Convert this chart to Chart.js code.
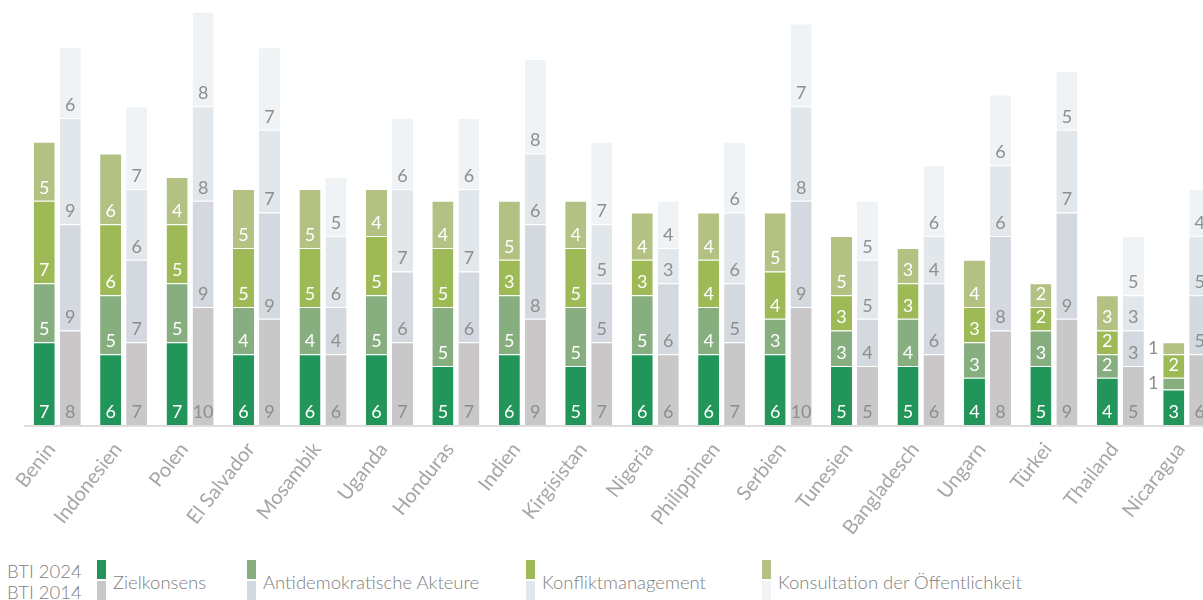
<!DOCTYPE html>
<html>
<head>
<meta charset="utf-8">
<script src="https://cdn.jsdelivr.net/npm/chart.js@4"></script>
<style>
  html, body { margin: 0; padding: 0; background: #fff; overflow: hidden; width: 1203px; height: 600px; }
  #wrap { position: absolute; left: 0; top: 0; width: 1220px; height: 540px; }
  .legend { position: absolute; font-family: Lato, "Open Sans", sans-serif; font-weight: 300; color: #808080; font-size: 18.5px; white-space: nowrap; }
  .sw { position: absolute; width: 9px; height: 19px; }
</style>
</head>
<body>
<div id="wrap"><canvas id="chart"></canvas></div>
<div class="legend" style="left:7px; top:561px; line-height:21px;">BTI 2024<br>BTI 2014</div>
<div id="legendItems"></div>
<script>
const countries = [
  "Benin", "Indonesien", "Polen", "El Salvador", "Mosambik", "Uganda",
  "Honduras", "Indien", "Kirgisistan", "Nigeria", "Philippinen", "Serbien",
  "Tunesien", "Bangladesch", "Ungarn", "Türkei", "Thailand", "Nicaragua",
];

const seriesNames = [
  "Zielkonsens",
  "Antidemokratische Akteure",
  "Konfliktmanagement",
  "Konsultation der Öffentlichkeit",
];

// BTI 2024
const ziel2024 =     [7, 6, 7, 6, 6, 6, 5, 6, 5, 6, 6, 6, 5, 5, 4, 5, 4, 3];
const antidemo2024 = [5, 5, 5, 4, 4, 5, 5, 5, 5, 5, 4, 3, 3, 4, 3, 3, 2, 1];
const konflikt2024 = [7, 6, 5, 5, 5, 5, 5, 3, 5, 3, 4, 4, 3, 3, 3, 2, 2, 2];
const konsult2024 =  [5, 6, 4, 5, 5, 4, 4, 5, 4, 4, 4, 5, 5, 3, 4, 2, 3, 1];

// BTI 2014
const ziel2014 =     [8, 7, 10, 9, 6, 7, 7, 9, 7, 6, 7, 10, 5, 6, 8, 9, 5, 6];
const antidemo2014 = [9, 7, 9, 9, 4, 6, 6, 8, 5, 6, 5, 9, 4, 6, 8, 9, 3, 5];
const konflikt2014 = [9, 6, 8, 7, 6, 7, 7, 6, 5, 3, 6, 8, 5, 4, 6, 7, 3, 5];
const konsult2014 =  [6, 7, 8, 7, 5, 6, 6, 8, 7, 4, 6, 7, 5, 6, 6, 5, 5, 4];

const greens = ["#22965A", "#86AE7E", "#9EBA56", "#B3C183"];
const greys = ["#C9C7C8", "#D3D9DE", "#E1E7EB", "#EFF3F5"];

const data2024 = [ziel2024, antidemo2024, konflikt2024, konsult2024];
const data2014 = [ziel2014, antidemo2014, konflikt2014, konsult2014];

const datasets = [];
data2024.forEach((values, i) => {
  datasets.push({
    label: seriesNames[i] + " 2024",
    data: values,
    stack: "bti2024",
    backgroundColor: greens[i],
    borderColor: "#ffffff",
    borderWidth: { top: 1, bottom: 0, left: 0, right: 0 },
    borderSkipped: false,
    labelColor: "#ffffff",
  });
});
data2014.forEach((values, i) => {
  datasets.push({
    label: seriesNames[i] + " 2014",
    data: values,
    stack: "bti2014",
    backgroundColor: greys[i],
    borderColor: "#ffffff",
    borderWidth: { top: 1, bottom: 0, left: 0, right: 0 },
    borderSkipped: false,
    labelColor: "#8e8e8e",
  });
});

// Grundlinie unter den Balken
const baseLine = {
  id: "baseLine",
  beforeDatasetsDraw(chart) {
    const ctx = chart.ctx;
    const area = chart.chartArea;
    ctx.save();
    ctx.strokeStyle = "#dddddd";
    ctx.lineWidth = 2;
    ctx.beginPath();
    ctx.moveTo(area.left, area.bottom + 1);
    ctx.lineTo(area.right, area.bottom + 1);
    ctx.stroke();
    ctx.restore();
  },
};

// Zahlen in die Segmente schreiben
const segmentLabels = {
  id: "segmentLabels",
  afterDatasetsDraw(chart) {
    const ctx = chart.ctx;
    ctx.save();
    ctx.font = "18px Lato";
    ctx.textAlign = "center";
    ctx.textBaseline = "middle";
    chart.data.datasets.forEach((ds, di) => {
      const meta = chart.getDatasetMeta(di);
      meta.data.forEach((bar, i) => {
        const h = bar.base - bar.y;
        const value = ds.data[i];
        if (h < 16) {
          // zu schmales Segment: Zahl links neben den Balken
          ctx.fillStyle = "#8e8e8e";
          ctx.fillText(value, bar.x - bar.width / 2 - 10, (bar.y + bar.base) / 2);
        } else {
          ctx.fillStyle = ds.labelColor;
          ctx.fillText(value, bar.x, bar.base - 13);
        }
      });
    });
    ctx.restore();
  },
};

new Chart(document.getElementById("chart"), {
  type: "bar",
  data: {
    labels: countries,
    datasets: datasets,
  },
  plugins: [baseLine, segmentLabels],
  options: {
    responsive: true,
    maintainAspectRatio: false,
    animation: false,
    layout: {
      padding: { left: 24, right: 0, top: 0, bottom: 0 },
    },
    categoryPercentage: 0.783,
    barPercentage: 0.81,
    plugins: {
      legend: { display: false },
      tooltip: { enabled: false },
    },
    scales: {
      x: {
        stacked: true,
        grid: { display: false },
        border: { display: false },
        afterFit: (axis) => {
          axis.height = 115;
        },
        ticks: {
          autoSkip: false,
          minRotation: 52,
          maxRotation: 52,
          padding: 5,
          labelOffset: -6,
          color: "#a6a6a6",
          font: { family: "Lato", size: 20 },
        },
      },
      y: {
        stacked: true,
        display: false,
        min: 0,
        max: 36,
      },
    },
  },
});

// Legende
const legendX = [97, 247, 526, 762];
const legendBox = document.getElementById("legendItems");
seriesNames.forEach((name, i) => {
  legendBox.insertAdjacentHTML(
    "beforeend",
    `<div class="sw" style="left:${legendX[i]}px; top:560px; background:${greens[i]}"></div>` +
    `<div class="sw" style="left:${legendX[i]}px; top:581px; background:${greys[i]}"></div>` +
    `<div class="legend" style="left:${legendX[i] + 16}px; top:571px;">${name}</div>`
  );
});
</script>
</body>
</html>
